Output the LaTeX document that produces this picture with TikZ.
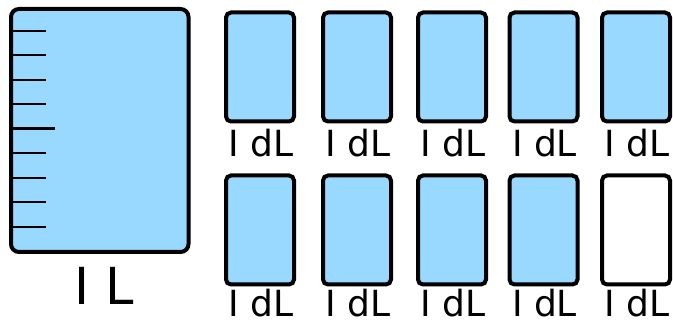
\documentclass[tikz,border=0pt]{standalone}
\usepackage{fontspec}
\newfontfamily\labelfont{DejaVu Sans}
\usepackage{xcolor}
\usetikzlibrary{calc}
\definecolor{waterblue}{RGB}{153,217,255}

\tikzset{
	jug/.style={draw=black, line width=4pt, rounded corners=8pt, fill=waterblue, minimum width=177.5pt, minimum height=243pt, inner sep=0pt},
	cup/.style={draw=black, line width=4pt, rounded corners=5pt, fill=waterblue, minimum width=68pt, minimum height=109pt, inner sep=0pt},
	emptycup/.style={cup, fill=white},
	cuplabel/.style={anchor=base, inner sep=0pt, font=\labelfont\fontsize{36}{36}\selectfont},
	juglabel/.style={anchor=base, inner sep=0pt, font=\labelfont\fontsize{51}{51}\selectfont}
}

\begin{document}
\begin{tikzpicture}[x=1pt, y=-1pt]
		\useasboundingbox (0,0) rectangle (673,323);

		% the litre jug
		\node at (99.75,130.5) (jug) [jug] {};
		\foreach \i in {1,...,9}{
			\coordinate (t\i) at ($(jug.west) + (0, 6.5 + 24.5*\i - 130.5)$);
			\ifnum\i=5
				\draw [line width=3pt] (t\i) -- ++(46,0);
			\else
				\draw [line width=2pt] (t\i) -- ++(37,0);
			\fi
		}
		\node at (104,305) (jl) [juglabel] {I L};

		% top row of decilitre cups
		\foreach \x [count=\n] in {260,357,452,543.5,636}{
			\node at (\x+1,157) (al\n) [cuplabel] {I dL};
			\node at (\x,67) (a\n) [cup] {};
		}

		% bottom row of decilitre cups
		\foreach \x [count=\n] in {260,357,452,543.5}{
			\node at (\x+1,317) (bl\n) [cuplabel] {I dL};
			\node at (\x,230) (b\n) [cup] {};
		}
		\node at (637,317) (bl5) [cuplabel] {I dL};
		\node at (636,230) (b5) [emptycup] {};

	\end{tikzpicture}
\end{document}
